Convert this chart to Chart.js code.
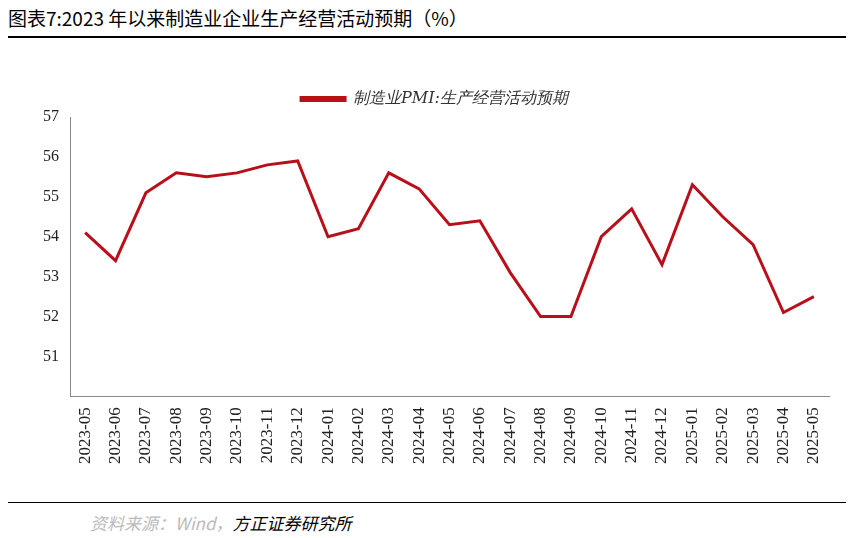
<!DOCTYPE html>
<html><head><meta charset="utf-8">
<script src="https://cdn.jsdelivr.net/npm/chart.js@4"></script>
<style>
body{margin:0;background:#fff;width:853px;height:538px;position:relative;overflow:hidden;font-family:"Noto Sans CJK SC",sans-serif}
#title{position:absolute;left:8px;top:4px;font-size:19px;color:#000}
#l1{position:absolute;left:8px;top:36px;width:838px;height:2px;background:#000}
#l2{position:absolute;left:8px;top:502px;width:838px;height:1px;background:#000}
#src{position:absolute;left:90px;top:510px;font-size:17px;font-style:italic;color:#000}
#wrap{position:absolute;left:0;top:40px;width:853px;height:460px}
</style></head><body>
<div id="title">图表7:2023 年以来制造业企业生产经营活动预期（%）</div>
<div id="l1"></div>
<div id="wrap"><canvas id="c"></canvas></div>
<div id="l2"></div>
<div id="src"><span style="color:#bbb">资料来源：Wind，</span>方正证券研究所</div>
<script>
const months = ['2023-05','2023-06','2023-07','2023-08','2023-09','2023-10','2023-11','2023-12','2024-01','2024-02','2024-03','2024-04','2024-05','2024-06','2024-07','2024-08','2024-09','2024-10','2024-11','2024-12','2025-01','2025-02','2025-03','2025-04','2025-05'];
const expectation = [54.1,53.4,55.1,55.6,55.5,55.6,55.8,55.9,54.0,54.2,55.6,55.2,54.3,54.4,53.1,52.0,52.0,54.0,54.7,53.3,55.3,54.5,53.8,52.1,52.5];
new Chart(document.getElementById('c'), {
  type: 'line',
  data: { labels: months, datasets: [{ label: '制造业PMI:生产经营活动预期', data: expectation, borderColor: '#b8101a', backgroundColor: '#b8101a', borderWidth: 3, pointRadius: 0, tension: 0 }] },
  options: {
    responsive: true, maintainAspectRatio: false, animation: false,
    layout: { padding: { left: 40, right: 24, top: 45, bottom: 33 } },
    plugins: {
      legend: { labels: { boxWidth: 44, boxHeight: 3, color: '#333', font: { family: 'DejaVu Serif', style: 'italic', size: 16 }, padding: 6 } },
      tooltip: { enabled: false }
    },
    scales: {
      x: { offset: true, grid: { display: false, drawTicks: true }, border: { color: '#888' }, ticks: { color: '#222', minRotation: 90, maxRotation: 90, autoSkip: false, font: { family: 'Liberation Serif', size: 17 } } },
      y: { min: 50, max: 57, grid: { display: false }, border: { color: '#888' }, ticks: { stepSize: 1, color: '#222', font: { family: 'Liberation Serif', size: 16 }, callback: v => v === 50 ? '' : v } }
    }
  }
});
</script></body></html>
